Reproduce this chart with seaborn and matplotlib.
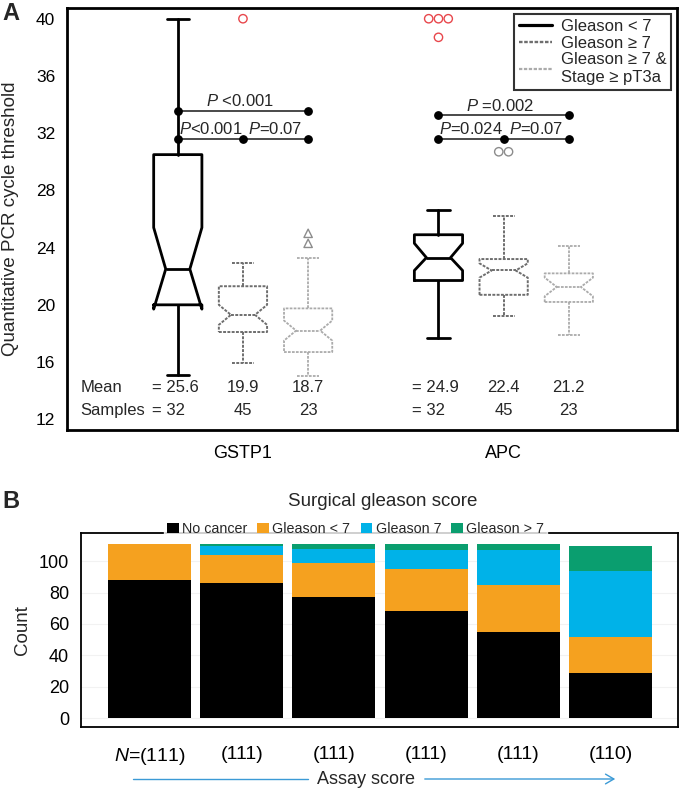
import numpy as np
import pandas as pd
import seaborn as sns
import matplotlib
matplotlib.use("Agg")
import matplotlib.pyplot as plt
from matplotlib.lines import Line2D
from matplotlib.patches import Patch, FancyArrowPatch

# ---------------- data: panel A ----------------
genes = ["GSTP1", "APC"]
groups = ["Gleason < 7", "Gleason \u2265 7", "Gleason \u2265 7 &\nStage \u2265 pT3a"]
whislo = [15.1, 15.9, 15.0, 17.7, 19.2, 17.9]
q1 = [20.0, 18.1, 16.7, 21.7, 20.7, 20.2]
med = [22.5, 19.3, 18.2, 23.3, 22.4, 21.25]
q3 = [30.5, 21.3, 19.75, 24.9, 23.2, 22.2]
whishi = [40.0, 22.9, 23.3, 26.6, 26.2, 24.1]
cilo = [19.7, 18.6, 17.5, 22.4, 21.9, 20.6]
cihi = [25.4, 20.0, 18.9, 24.3, 22.9, 21.9]
fliers = [[], [40.0], [25.0, 24.3], [40.0, 40.0, 40.0, 38.7], [30.7, 30.7], []]
means = [25.6, 19.9, 18.7, 24.9, 22.4, 21.2]
samples = [32, 45, 23, 32, 45, 23]
pvals = ["<0.001", "<0.001", "=0.07", "=0.002", "=0.024", "=0.07"]
yticks_a = [12, 16, 20, 24, 28, 32, 36, 40]

# ---------------- data: panel B ----------------
assay_n = [111, 111, 111, 111, 111, 110]
outcome = ["No cancer", "Gleason < 7", "Gleason 7", "Gleason > 7"]
no_cancer = [88, 86, 77, 68, 55, 29]
gl_lt7 = [23, 18, 22, 27, 30, 23]
gl_7 = [0, 6, 9, 12, 22, 42]
gl_gt7 = [0, 1, 3, 4, 4, 16]

# ---------------- style ----------------
sns.set_theme(style="white")
plt.rcParams["font.family"] = ["Liberation Sans", "DejaVu Sans"]
plt.rcParams["mathtext.fontset"] = "custom"
plt.rcParams["mathtext.it"] = "Liberation Sans:italic"
plt.rcParams["mathtext.rm"] = "Liberation Sans"

fig = plt.figure(figsize=(6.8, 7.89), dpi=100)
W, H = 680, 789


def ax_rect(l, t, r, b):
    return [l / W, 1 - b / H, (r - l) / W, (b - t) / H]


# ================= Panel A =================
axA = fig.add_axes(ax_rect(67, 8, 677, 430))
positions = [1, 2, 3, 5, 6, 7]
box_styles = [
    dict(color="black", lw=2.0, ls="-"),
    dict(color="#6e6e6e", lw=1.4, ls=(0, (1.5, 0.7))),
    dict(color="#ababab", lw=1.3, ls=(0, (1.5, 0.7))),
]
flier_style = [None, ("o", "#e8474c"), ("^", "#8c8c8c"), ("o", "#e8474c"), ("o", "#8c8c8c"), None]

for i, pos in enumerate(positions):
    st = box_styles[i % 3]
    stats = [dict(med=med[i], q1=q1[i], q3=q3[i], whislo=whislo[i], whishi=whishi[i],
                  cilo=cilo[i], cihi=cihi[i], fliers=[])]
    lp = dict(color=st["color"], linewidth=st["lw"], linestyle=st["ls"])
    axA.bxp(stats, positions=[pos], widths=0.74, capwidths=0.34, shownotches=True,
            showfliers=False, manage_ticks=False,
            boxprops=lp, whiskerprops=lp, capprops=lp, medianprops=lp)
    if fliers[i]:
        vals = np.array(fliers[i])
        xs = np.full(len(vals), float(pos))
        for v in np.unique(vals):
            idx = np.where(vals == v)[0]
            n = len(idx)
            xs[idx] = pos + (np.arange(n) - (n - 1) / 2) * 0.15
        mk, col = flier_style[i]
        axA.scatter(xs, vals, s=36, marker=mk, facecolors="none", edgecolors=col,
                    linewidths=1.0, zorder=4)


def bracket(x1, x2, y, dots):
    axA.plot([x1, x2], [y, y], color="#4a4a4a", lw=1.4, zorder=3)
    axA.scatter(dots, [y] * len(dots), s=28, color="black", zorder=5)


for g, base in enumerate([1, 5]):
    top_y = 33.55 if g == 0 else 33.25
    bracket(base, base + 2, top_y, [base, base + 2])
    bracket(base, base + 2, 31.6, [base, base + 1, base + 2])
    axA.text(base + 0.95, top_y + 0.12, "$P$ " + pvals[g * 3 + 0], ha="center", va="bottom", fontsize=12)
    axA.text(base + 0.5, 31.72, "$P$" + pvals[g * 3 + 1], ha="center", va="bottom", fontsize=12)
    axA.text(base + 1.5, 31.72, "$P$" + pvals[g * 3 + 2], ha="center", va="bottom", fontsize=12)

axA.text(-0.49, 14.25, "Mean", ha="left", va="center", fontsize=12)
axA.text(-0.49, 12.6, "Samples", ha="left", va="center", fontsize=12)
for i, pos in enumerate(positions):
    if i % 3 == 0:
        axA.text(pos - 0.4, 14.25, f"= {means[i]:.1f}", ha="left", va="center", fontsize=12)
        axA.text(pos - 0.4, 12.6, f"= {samples[i]}", ha="left", va="center", fontsize=12)
    else:
        axA.text(pos, 14.25, f"{means[i]:.1f}", ha="center", va="center", fontsize=12)
        axA.text(pos, 12.6, f"{samples[i]}", ha="center", va="center", fontsize=12)

axA.set_xlim(-0.70, 8.66)
axA.set_ylim(11.25, 40.75)
axA.set_yticks(yticks_a)
axA.set_xticks([2, 6])
axA.set_xticklabels(genes, fontsize=13)
axA.tick_params(axis="x", direction="in", length=6, width=1.5, pad=11, colors="black")
axA.tick_params(axis="y", direction="out", length=5, width=1.5, labelsize=12.5, colors="black")
axA.set_ylabel("Quantitative PCR cycle threshold", fontsize=13.5)
axA.yaxis.set_label_coords(-0.078, 0.5)
for sp in axA.spines.values():
    sp.set_linewidth(2.0)
    sp.set_color("black")

handles = [Line2D([], [], color=box_styles[k]["color"], lw=box_styles[k]["lw"] + 0.3,
                  ls=box_styles[k]["ls"]) for k in range(3)]
legA = axA.legend(handles, groups, loc="upper right", fontsize=12, frameon=True,
                  fancybox=False, borderaxespad=0.35, handlelength=2.0, labelspacing=0.1,
                  borderpad=0.3, handletextpad=0.5)
legA.get_frame().set_edgecolor("black")
legA.get_frame().set_linewidth(1.5)

fig.text(2 / W, 1 - 14 / H, "A", fontsize=17, fontweight="bold", va="center", ha="left")

# ================= Panel B =================
axB = fig.add_axes(ax_rect(81, 533, 678, 727))
colors_b = ["#000000", "#f5a11f", "#00b2e8", "#0a9e6f"]
xkeys = [str(i) for i in range(len(assay_n))]
xlabels = ["$N$=(%d)" % assay_n[0]] + ["(%d)" % n for n in assay_n[1:]]
df = pd.DataFrame({"score": xkeys, outcome[0]: no_cancer, outcome[1]: gl_lt7,
                   outcome[2]: gl_7, outcome[3]: gl_gt7})
cum = df[outcome].cumsum(axis=1)
for k in range(3, -1, -1):
    d = pd.DataFrame({"score": xkeys, "val": cum[outcome[k]].values})
    sns.barplot(data=d, x="score", y="val", color=colors_b[k], saturation=1, width=0.9,
                edgecolor="none", linewidth=0, ax=axB, order=xkeys, errorbar=None)

axB.set_xticks(range(len(xkeys)))
axB.set_xticklabels(xlabels)
axB.set_xlim(-0.742, 5.73)
axB.set_ylim(-5.7, 118)
axB.set_yticks([0, 20, 40, 60, 80, 100])
axB.set_xlabel("")
axB.set_ylabel("Count", fontsize=13.5, labelpad=6)
axB.tick_params(axis="y", direction="out", length=5, width=1.2, labelsize=13, colors="black")
axB.tick_params(axis="x", direction="out", length=5, width=1.2, labelsize=14, colors="black", pad=9)
axB.yaxis.grid(True, color="#f2f2f2", lw=0.8)
axB.set_axisbelow(True)
for sp in axB.spines.values():
    sp.set_linewidth(1.3)
    sp.set_color("black")

hB = [Patch(facecolor=c, edgecolor="none") for c in colors_b]
legB = axB.legend(hB, outcome, loc="center", bbox_to_anchor=(0.46, 1.02), ncol=4,
                  fontsize=10.3, frameon=True, fancybox=False, handlelength=0.8,
                  handleheight=0.7, handletextpad=0.25, columnspacing=0.7, borderpad=0.2)
legB.get_frame().set_facecolor("white")
legB.get_frame().set_edgecolor("white")
legB.set_zorder(10)

fig.text(383 / W, 1 - 502 / H, "Surgical gleason score", ha="center", va="center", fontsize=13.5)
fig.text(2 / W, 1 - 502 / H, "B", fontsize=17, fontweight="bold", va="center", ha="left")

arrow_col = "#3b9ad6"
yA = 1 - 779 / H
fig.add_artist(Line2D([133 / W, 308 / W], [yA, yA], color=arrow_col, lw=1.0))
fig.text(366 / W, yA, "Assay score", ha="center", va="center", fontsize=13)
fig.add_artist(FancyArrowPatch((422 / W, yA), (618 / W, yA), transform=fig.transFigure,
                               arrowstyle="->,head_length=6,head_width=3.5",
                               color=arrow_col, lw=1.0))

fig.savefig("out.png", dpi=100)
